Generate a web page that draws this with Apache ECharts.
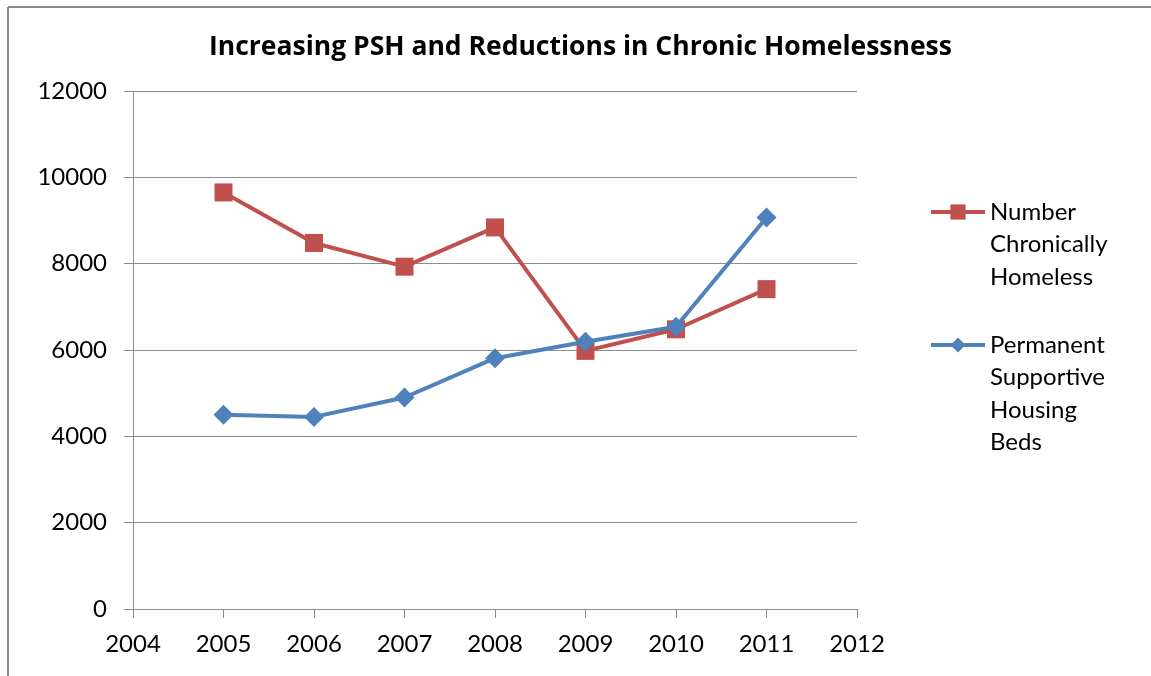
<!DOCTYPE html>
<html>
<head>
<meta charset="utf-8">
<script src="https://cdn.jsdelivr.net/npm/echarts@6/dist/echarts.min.js"></script>
<style>
  html, body { margin: 0; padding: 0; background: #fff; }
  #chart { width: 1151px; height: 676px; }
</style>
</head>
<body>
<div id="chart"></div>
<script>
// Years on the x axis and the two annual series
const years = [2005, 2006, 2007, 2008, 2009, 2010, 2011];
const chronicallyHomeless = [9650, 8480, 7930, 8840, 5980, 6480, 7410];
const pshBeds = [4500, 4450, 4900, 5810, 6190, 6540, 9070];

const seriesNames = ['Number Chronically Homeless', 'Permanent Supportive Housing Beds'];
const legendLines = [
  ['Number', 'Chronically', 'Homeless'],
  ['Permanent', 'Supportive', 'Housing', 'Beds']
];
const titleText = 'Increasing PSH and Reductions in Chronic Homelessness';

const RED = '#C0504D';
const BLUE = '#4F81BD';
const GRID = '#8c8c8c';
const FONT = 'Lato';
const LINE_H = 32.5;

const chart = echarts.init(document.getElementById('chart'), null, { renderer: 'canvas' });

function pairs(vals) {
  return years.map((y, i) => [y, vals[i]]);
}

// One legend block per series. The label is padded with leading blank lines so
// that the vertically centred icon lines up with the first text line.
function legendFor(idx, iconCenterY) {
  const n = legendLines[idx].length;
  const blockH = (2 * n - 1) * LINE_H;
  return {
    orient: 'vertical',
    left: 929,
    top: iconCenterY - blockH / 2,
    itemWidth: 54,
    itemHeight: 19,
    itemGap: 0,
    padding: 0,
    data: [seriesNames[idx]],
    lineStyle: { width: 4 },
    formatter: () => '\n'.repeat(n - 1) + legendLines[idx].join('\n'),
    textStyle: {
      fontFamily: FONT,
      fontSize: 24,
      color: '#000',
      lineHeight: LINE_H
    }
  };
}

chart.setOption({
  animation: false,
  backgroundColor: '#fff',
  title: {
    text: titleText,
    left: 209,
    top: 34,
    padding: 0,
    textStyle: { fontFamily: 'Open Sans', fontWeight: 'bold', fontSize: 26.5, color: '#000' }
  },
  legend: [legendFor(0, 212), legendFor(1, 345)],
  grid: { left: 133, right: 294, top: 91, bottom: 67, containLabel: false },
  xAxis: {
    type: 'value',
    min: 2004,
    max: 2012,
    interval: 1,
    axisLine: { lineStyle: { color: GRID, width: 1 } },
    axisTick: { show: true, length: 9, lineStyle: { color: GRID } },
    splitLine: { show: false },
    axisLabel: { fontFamily: FONT, fontSize: 24, color: '#000', margin: 23, formatter: v => String(v) }
  },
  yAxis: {
    type: 'value',
    min: 0,
    max: 12000,
    interval: 2000,
    axisLine: { show: true, lineStyle: { color: GRID, width: 1 } },
    axisTick: { show: true, length: 9, lineStyle: { color: GRID } },
    splitLine: { show: true, lineStyle: { color: GRID, width: 1 } },
    axisLabel: { fontFamily: FONT, fontSize: 24, color: '#000', margin: 26, formatter: v => String(v) }
  },
  series: [
    {
      name: seriesNames[0],
      type: 'line',
      data: pairs(chronicallyHomeless),
      symbol: 'rect',
      symbolSize: 18,
      lineStyle: { color: RED, width: 4 },
      itemStyle: { color: RED },
      z: 2
    },
    {
      name: seriesNames[1],
      type: 'line',
      data: pairs(pshBeds),
      symbol: 'diamond',
      symbolSize: [20, 20],
      lineStyle: { color: BLUE, width: 4 },
      itemStyle: { color: BLUE },
      z: 3
    }
  ],
  graphic: [
    // chart frame: top and left edges
    { type: 'line', shape: { x1: 8, y1: 7, x2: 1151, y2: 7 }, style: { stroke: '#8a8a8a', lineWidth: 2 } },
    { type: 'line', shape: { x1: 8, y1: 7, x2: 8, y2: 676 }, style: { stroke: '#8a8a8a', lineWidth: 2 } }
  ]
});
</script>
</body>
</html>
